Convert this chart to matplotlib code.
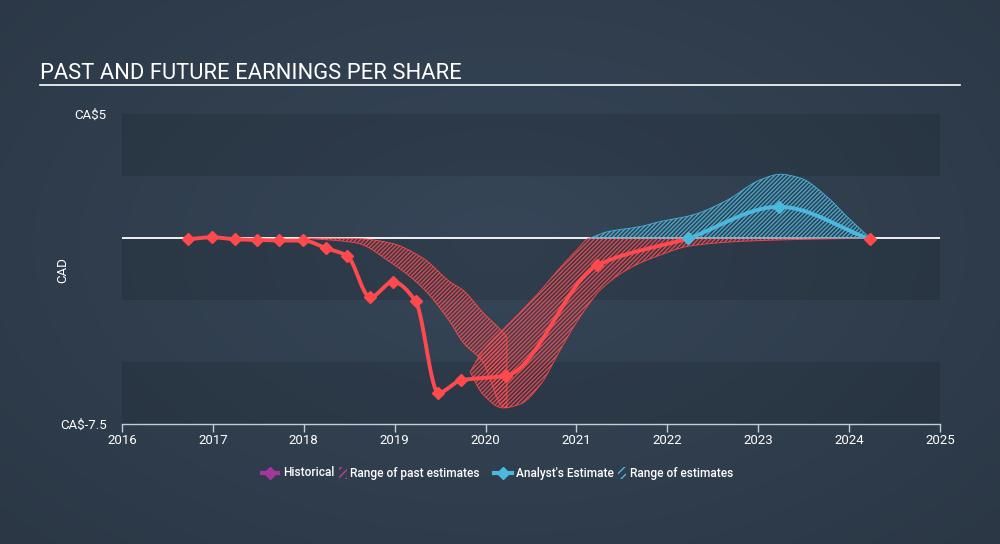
import numpy as np
import matplotlib
matplotlib.use('Agg')
import matplotlib.pyplot as plt
from matplotlib.lines import Line2D
from matplotlib.patches import Rectangle

plt.rcParams['font.family'] = ['Roboto', 'DejaVu Sans']
plt.rcParams['hatch.linewidth'] = 1.0

# Historical EPS (CA$)
hist_dates = [2016.73, 2016.99, 2017.24, 2017.49, 2017.73, 2017.99, 2018.24, 2018.48,
              2018.73, 2018.98, 2019.23, 2019.48, 2019.73, 2020.23, 2021.23, 2022.23]
hist_eps = [-0.05, 0.03, -0.05, -0.08, -0.10, -0.10, -0.40, -0.73,
            -2.39, -1.77, -2.55, -6.24, -5.74, -5.55, -1.10, -0.02]

# Analyst estimates
est_dates = [2022.23, 2023.23, 2024.23]
est_eps = [-0.02, 1.26, -0.05]

# Range of past estimates, first arm (2018 -> 2020)
past1_dates = [2017.99, 2018.58, 2018.95, 2019.31, 2019.61, 2019.75, 2019.97, 2020.19, 2020.235]
past1_high = [0.0, -0.02, -0.20, -0.81, -1.77, -2.10, -3.00, -3.80, -4.00]
past1_low = [0.0, -0.20, -0.97, -2.02, -3.39, -4.20, -5.00, -6.80, -6.85]

# Range of past estimates, second arm (2020 -> 2024)
past2_dates = [2019.83, 2019.97, 2020.19, 2020.38, 2020.60, 2020.82, 2021.00, 2021.15,
               2021.26, 2021.59, 2021.92, 2022.25, 2022.90, 2024.23]
past2_high = [-5.40, -4.55, -3.70, -3.00, -2.14, -1.20, -0.50, 0.0,
              0.0, 0.0, 0.0, 0.0, 0.0, 0.0]
past2_low = [-5.40, -6.30, -6.85, -6.70, -5.93, -4.52, -3.40, -2.60,
             -2.10, -1.21, -0.69, -0.32, -0.12, 0.0]

# Range of future estimates
fut_dates = [2021.15, 2021.34, 2021.70, 2021.92, 2022.28, 2022.66, 2023.02, 2023.24,
             2023.46, 2023.76, 2023.98, 2024.23]
fut_high = [0.0, 0.25, 0.46, 0.66, 0.93, 1.53, 2.34, 2.57, 2.42, 1.65, 0.85, 0.0]
fut_low = [0.0] * len(fut_dates)

years = list(range(2016, 2026))

RED = '#ff4a4d'
BLUE = '#4bb9de'
PURPLE = '#a1399d'


def monotone(x, y, xs):
    x = np.asarray(x, float)
    y = np.asarray(y, float)
    h = np.diff(x)
    d = np.diff(y) / h
    m = np.zeros_like(y)
    m[0], m[-1] = d[0], d[-1]
    for i in range(1, len(y) - 1):
        if d[i - 1] * d[i] > 0:
            w1 = 2 * h[i] + h[i - 1]
            w2 = h[i] + 2 * h[i - 1]
            m[i] = (w1 + w2) / (w1 / d[i - 1] + w2 / d[i])
    idx = np.clip(np.searchsorted(x, xs) - 1, 0, len(h) - 1)
    t = (xs - x[idx]) / h[idx]
    h00 = 2 * t ** 3 - 3 * t ** 2 + 1
    h10 = t ** 3 - 2 * t ** 2 + t
    h01 = -2 * t ** 3 + 3 * t ** 2
    h11 = t ** 3 - t ** 2
    return h00 * y[idx] + h10 * h[idx] * m[idx] + h01 * y[idx + 1] + h11 * h[idx] * m[idx + 1]


def smooth(x, y, n=300):
    xs = np.linspace(x[0], x[-1], n)
    return xs, monotone(x, y, xs)


fig = plt.figure(figsize=(10, 5.44), dpi=100)

# radial background gradient
bg = fig.add_axes([0, 0, 1, 1], zorder=-10)
gy, gx = np.mgrid[0:1:300j, 0:1:550j]
r = np.sqrt(((gx - 0.5) / 0.7) ** 2 + ((gy - 0.55) / 0.8) ** 2)
r = np.clip(r, 0, 1)
c_in = np.array([54, 70, 88]) / 255
c_out = np.array([43, 55, 69]) / 255
img = c_in[None, None, :] * (1 - r[..., None]) + c_out[None, None, :] * r[..., None]
bg.imshow(img, extent=[0, 1, 0, 1], aspect='auto', origin='lower')
bg.axis('off')

ax = fig.add_axes([0.122, 1 - 424 / 544, 0.818, 310 / 544])
ax.patch.set_alpha(0)
ax.set_xlim(2016, 2025)
ax.set_ylim(-7.5, 5)

# alternating bands
for lo in (2.5, -2.5, -7.5):
    ax.axhspan(lo, lo + 2.5, color='black', alpha=0.11, lw=0, zorder=0)

ax.axhline(0, color='white', lw=1.3, zorder=1)

# ranges
for d, hi, lo, col in [(past1_dates, past1_high, past1_low, RED),
                       (past2_dates, past2_high, past2_low, RED),
                       (fut_dates, fut_high, fut_low, BLUE)]:
    xs, yh = smooth(d, hi)
    _, yl = smooth(d, lo)
    ax.fill_between(xs, yl, yh, facecolor='none', edgecolor=col, hatch='////////',
                    lw=0.7, alpha=0.85, zorder=2)

# historical line
xs, ys = smooth(hist_dates, hist_eps, 600)
ax.plot(xs, ys, color=RED, lw=2.8, zorder=4, solid_capstyle='round')
ax.plot(hist_dates, hist_eps, ls='none', marker='D', ms=6.5, color=RED, zorder=5)

# analyst estimate line
xs, ys = smooth(est_dates, est_eps, 300)
ax.plot(xs, ys, color=BLUE, lw=2.8, zorder=4, solid_capstyle='round')
ax.plot(est_dates[:-1], est_eps[:-1], ls='none', marker='D', ms=6.5, color=BLUE, zorder=5)
ax.plot(est_dates[-1:], est_eps[-1:], ls='none', marker='D', ms=6.5, color=RED, zorder=5)

# axes styling
for s in ('top', 'right', 'left'):
    ax.spines[s].set_visible(False)
ax.spines['bottom'].set_color('#c3cdd7')
ax.spines['bottom'].set_linewidth(1)
ax.set_xticks(years)
ax.set_xticklabels([str(y) for y in years])
ax.tick_params(axis='x', colors='#c3cdd7', length=6, width=1, pad=1.5, labelcolor='white', labelsize=9.5)
ax.set_yticks([5, -7.5])
ax.set_yticklabels(['CA$5', 'CA$-7.5'])
ax.tick_params(axis='y', length=0, pad=11, labelcolor='white', labelsize=9.5)

fig.text(0.063, 1 - 270 / 544, 'CAD', rotation=90, ha='center', va='center',
         color='white', fontsize=9.5)

# title
fig.text(0.04, 1 - 79 / 544, 'PAST AND FUTURE EARNINGS PER SHARE', color='white',
         fontsize=15.8, va='baseline', ha='left')
fig.add_artist(Line2D([0.04, 0.96], [1 - 85 / 544] * 2, color='white', lw=1.2))

# legend
ly = 1 - 473 / 544
fig.add_artist(Line2D([262 / 1000, 278 / 1000], [ly, ly], color=PURPLE, lw=3))
fig.add_artist(Line2D([270 / 1000], [ly], marker='D', ms=6, color=PURPLE))
fig.text(283 / 1000, ly, 'Historical', color='white', fontsize=8.6, fontweight='medium', va='center')
fig.add_artist(Rectangle((339 / 1000, ly - 6 / 544), 8 / 1000, 12 / 544, facecolor='none',
                         edgecolor='#c0418f', hatch='////', lw=0, transform=fig.transFigure))
fig.text(350 / 1000, ly, 'Range of past estimates', color='white', fontsize=8.6,
         fontweight='medium', va='center')
fig.add_artist(Line2D([494 / 1000, 512 / 1000], [ly, ly], color=BLUE, lw=3))
fig.add_artist(Line2D([503 / 1000], [ly], marker='D', ms=6, color=BLUE))
fig.text(516 / 1000, ly, "Analyst's Estimate", color='white', fontsize=8.6,
         fontweight='medium', va='center')
fig.add_artist(Rectangle((618 / 1000, ly - 6 / 544), 8 / 1000, 12 / 544, facecolor='none',
                         edgecolor=BLUE, hatch='////', lw=0, transform=fig.transFigure))
fig.text(630 / 1000, ly, 'Range of estimates', color='white', fontsize=8.6,
         fontweight='medium', va='center')

fig.savefig('out.png', dpi=100)
